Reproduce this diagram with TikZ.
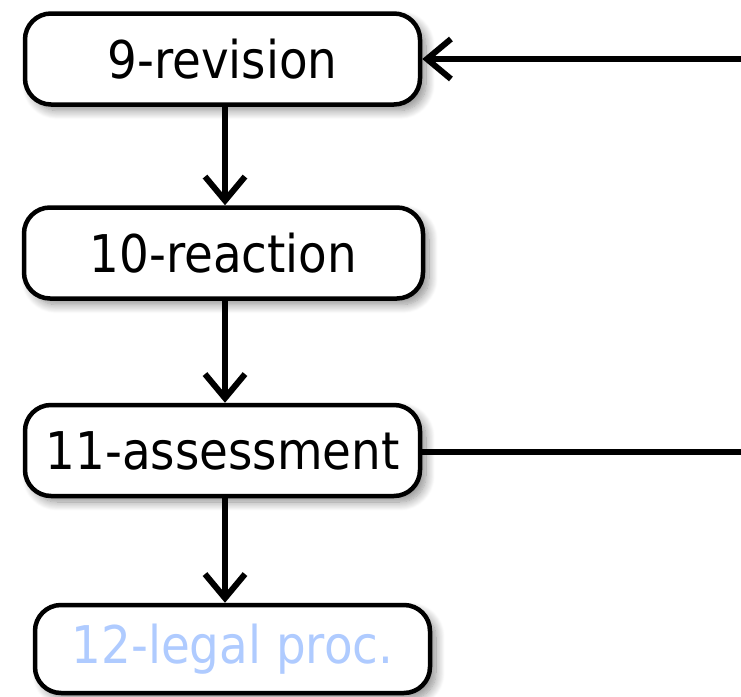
\documentclass[tikz,border=0pt]{standalone}
\usepackage{fontspec}
\setmainfont{DejaVu Sans Condensed}
\usetikzlibrary{arrows.meta,shadows.blur}
\definecolor{legalblue}{HTML}{AFCBFF}
\tikzset{
  stepbox/.style={draw=black, line width=4.5pt, rounded corners=26pt, fill=white,
    minimum width=395pt, minimum height=91pt, inner sep=0pt,
    font=\fontsize{52}{58}\selectfont,
    blur shadow={shadow xshift=6pt, shadow yshift=-6pt, shadow blur steps=12, shadow opacity=45, shadow blur radius=9pt}},
  conn/.style={line width=6pt, -{Straight Barb[length=24pt,width=40pt]}},
  plainconn/.style={line width=6pt}
}
\begin{document}
\begin{tikzpicture}[x=1pt,y=-1pt]
\useasboundingbox (0,0) rectangle (741,696);
\node[stepbox] (n9) at (222.5,59) {9-revision};
\node[stepbox, minimum width=399pt] (n10) at (223.5,253) {10-reaction};
\node[stepbox] (n11) at (222.5,450.5) {11-assessment};
\node[stepbox, minimum height=88pt, text=legalblue] (n12) at (232.5,649) {12-legal proc.};
\coordinate (r9) at (741,59);
\coordinate (r11) at (741,452);
\draw[conn] ([xshift=2.5pt]n9.south) -- ([xshift=1.5pt]n10.north);
\draw[conn] ([xshift=1.5pt]n10.south) -- ([xshift=2.5pt]n11.north);
\draw[conn] ([xshift=2.5pt]n11.south) -- ([xshift=-7.5pt]n12.north);
\draw[conn] (r9) -- (n9.east);
\draw[plainconn] (n11.east |- r11) -- (r11);
\end{tikzpicture}
\end{document}
